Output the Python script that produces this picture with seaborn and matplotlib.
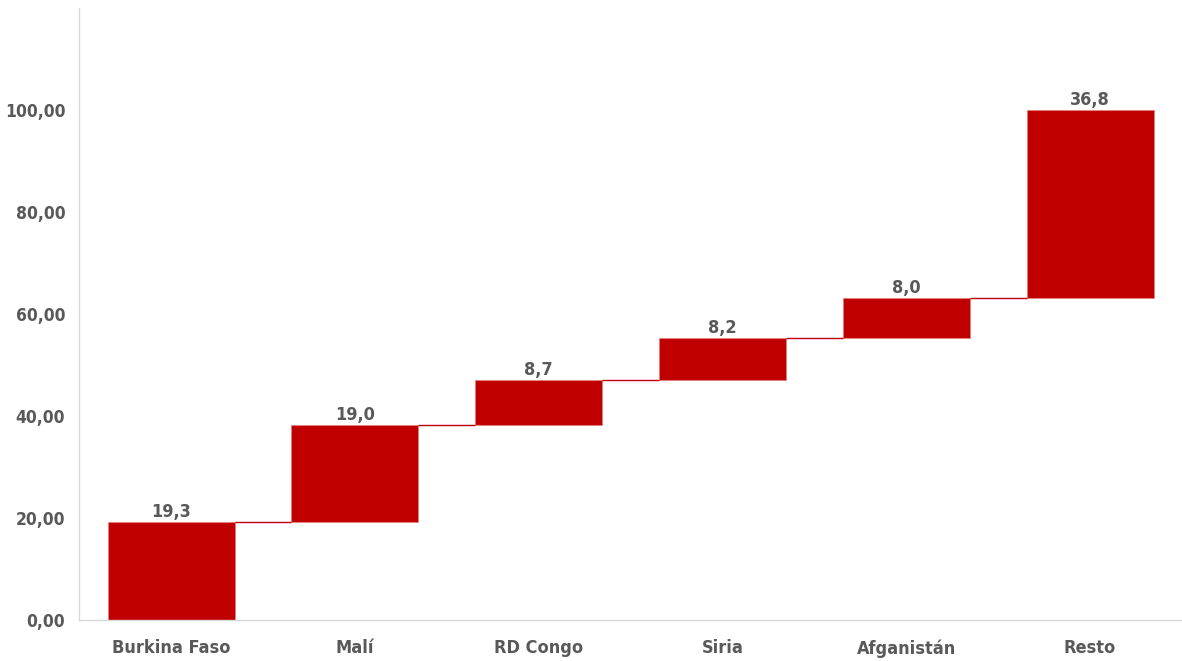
import pandas as pd
import numpy as np
import matplotlib.pyplot as plt
import seaborn as sns
from matplotlib.ticker import FuncFormatter

# ---- data ----
countries = ["Burkina Faso", "Malí", "RD Congo", "Siria", "Afganistán", "Resto"]
shares = [19.3, 19.0, 8.7, 8.2, 8.0, 36.8]

df = pd.DataFrame({"country": countries, "share": shares})
df["end"] = df["share"].cumsum()
df["start"] = df["end"] - df["share"]

# ---- style ----
sns.set_style("white")
plt.rcParams["font.family"] = ["DejaVu Sans"]
plt.rcParams["font.stretch"] = "condensed"
plt.rcParams["font.weight"] = "bold"
red = "#C00000"
grey = "#595959"
bar_w = 0.69

fig, ax = plt.subplots(figsize=(11.82, 6.61), dpi=100)
fig.subplots_adjust(left=0.067, right=1.0, top=0.988, bottom=0.062)

sns.barplot(data=df, x="country", y="share", bottom=df["start"], color=red,
            saturation=1, width=bar_w, edgecolor="#E88080", linewidth=0.6, ax=ax)

# connectors between consecutive bars
for i in range(len(df) - 1):
    ax.plot([i + bar_w / 2, i + 1 - bar_w / 2], [df["end"][i]] * 2,
            color=red, lw=1, solid_capstyle="butt")

# value labels above each bar
for i, row in df.iterrows():
    ax.text(i, row["end"] + 0.2, f"{row['share']:.1f}".replace(".", ","),
            ha="center", va="bottom", fontsize=13, color=grey,
            fontweight="bold", fontstretch="condensed")

ax.set_xlim(-0.5, 5.5)
ax.set_ylim(0, 120)
ax.set_yticks([0, 20, 40, 60, 80, 100])
ax.yaxis.set_major_formatter(FuncFormatter(lambda v, p: f"{v:.2f}".replace(".", ",")))
ax.set_xlabel("")
ax.set_ylabel("")
ax.tick_params(axis="y", length=0, labelsize=12.5, labelcolor=grey, pad=10)
ax.tick_params(axis="x", length=0, labelsize=13, labelcolor=grey, pad=14)
for lab in ax.get_xticklabels() + ax.get_yticklabels():
    lab.set_fontweight("bold")
    lab.set_fontstretch("condensed")

for s in ["top", "right"]:
    ax.spines[s].set_visible(False)
for s in ["left", "bottom"]:
    ax.spines[s].set_color("#D9D9D9")
    ax.spines[s].set_linewidth(1)

plt.savefig("out.png", dpi=100)
